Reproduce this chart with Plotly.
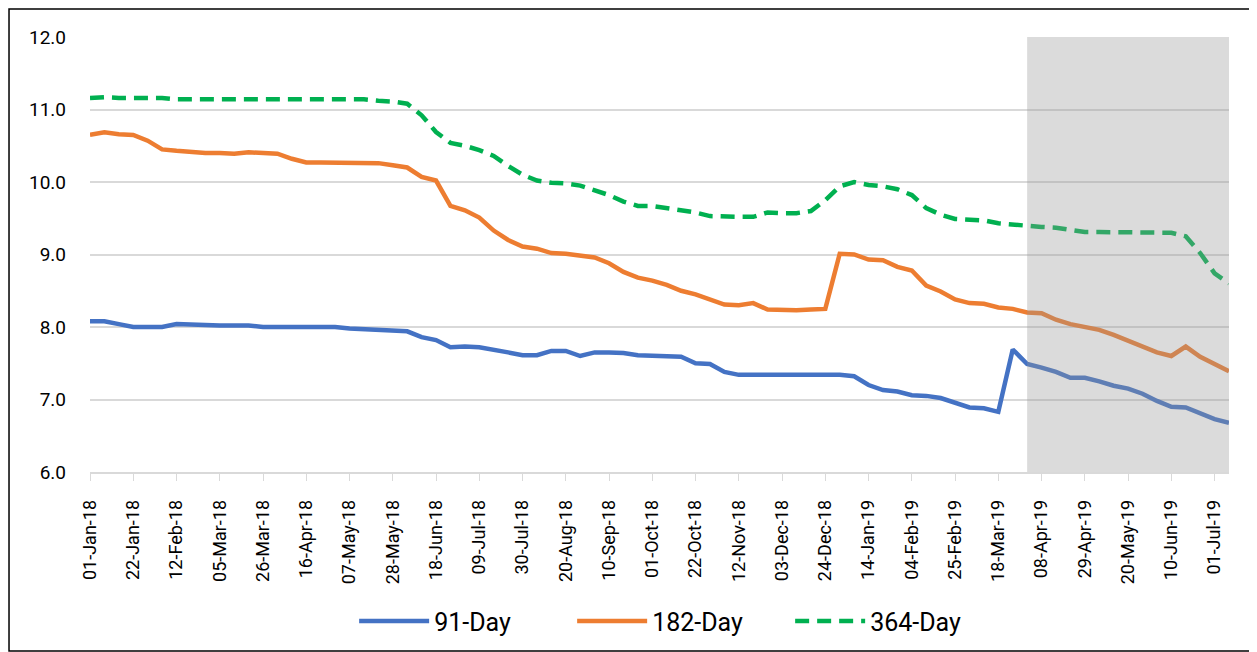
import pandas as pd
import plotly.graph_objects as go

# weekly observations, first week starts 01-Jan-18
start_date = '2018-01-01'
n_weeks = 80

yield_91 = [
    8.08, 8.08, 8.04, 8.00, 8.00, 8.00, 8.04, 8.03, 8.03, 8.02,
    8.02, 8.02, 8.00, 8.00, 8.00, 8.00, 8.00, 8.00, 7.98, 7.97,
    7.95, 7.94, 7.94, 7.86, 7.82, 7.72, 7.73, 7.72, 7.69, 7.65,
    7.61, 7.61, 7.67, 7.67, 7.60, 7.65, 7.65, 7.64, 7.61, 7.60,
    7.60, 7.59, 7.50, 7.49, 7.38, 7.34, 7.34, 7.34, 7.34, 7.34,
    7.35, 7.34, 7.34, 7.32, 7.20, 7.13, 7.11, 7.06, 7.05, 7.02,
    6.96, 6.89, 6.88, 6.83, 7.69, 7.49, 7.44, 7.38, 7.30, 7.30,
    7.25, 7.19, 7.15, 7.08, 6.98, 6.90, 6.89, 6.81, 6.73, 6.68,
]
yield_182 = [
    10.65, 10.685, 10.66, 10.65, 10.57, 10.45, 10.43, 10.41, 10.40, 10.40,
    10.39, 10.41, 10.40, 10.39, 10.32, 10.27, 10.27, 10.27, 10.27, 10.27,
    10.26, 10.23, 10.20, 10.07, 10.02, 9.67, 9.61, 9.51, 9.33, 9.20,
    9.11, 9.08, 9.02, 9.01, 8.99, 8.96, 8.88, 8.76, 8.68, 8.64,
    8.58, 8.50, 8.45, 8.38, 8.31, 8.30, 8.33, 8.24, 8.23, 8.23,
    8.24, 8.25, 9.01, 9.00, 8.93, 8.92, 8.83, 8.78, 8.57, 8.49,
    8.38, 8.33, 8.32, 8.27, 8.25, 8.20, 8.19, 8.10, 8.04, 8.00,
    7.96, 7.89, 7.81, 7.73, 7.65, 7.60, 7.73, 7.59, 7.49, 7.39,
]
yield_364 = [
    11.16, 11.17, 11.16, 11.16, 11.16, 11.16, 11.14, 11.14, 11.14, 11.13,
    11.13, 11.14, 11.14, 11.14, 11.14, 11.14, 11.14, 11.145, 11.145, 11.14,
    11.12, 11.11, 11.08, 10.92, 10.69, 10.54, 10.50, 10.44, 10.36, 10.22,
    10.10, 10.02, 9.99, 9.98, 9.95, 9.89, 9.82, 9.73, 9.67, 9.67,
    9.64, 9.61, 9.58, 9.53, 9.52, 9.52, 9.52, 9.58, 9.57, 9.57,
    9.60, 9.75, 9.94, 10.00, 9.96, 9.94, 9.90, 9.82, 9.64, 9.55,
    9.49, 9.48, 9.47, 9.43, 9.41, 9.40, 9.38, 9.37, 9.34, 9.31,
    9.31, 9.31, 9.31, 9.31, 9.30, 9.30, 9.25, 9.02, 8.74, 8.60,
]

shade_start = '2019-04-01'
shade_end = '2019-07-08'

dates = pd.date_range(start_date, periods=n_weeks, freq='7D')

series = [
    ('91-Day', yield_91, '#4472C4', 'solid'),
    ('182-Day', yield_182, '#ED7D31', 'solid'),
    ('364-Day', yield_364, '#00B050', '14px,8px'),
]

fig = go.Figure()
for name, values, colour, dash in series:
    fig.add_trace(go.Scatter(
        x = dates,
        y = values,
        name = name,
        mode = 'lines',
        line = dict(color = colour, width = 4.5, dash = dash),
    ))

# shaded window at the end, drawn over the lines
fig.add_shape(
    type = 'rect',
    xref = 'x', yref = 'paper',
    x0 = shade_start, x1 = shade_end, y0 = 0, y1 = 1,
    fillcolor = 'rgba(150,150,150,0.34)',
    line = dict(width = 0),
    layer = 'above',
)
# outer chart border
fig.add_shape(
    type = 'rect',
    xref = 'paper', yref = 'paper',
    x0 = -0.0711, x1 = 1.0202, y0 = -0.4115, y1 = 1.0644,
    line = dict(color = 'black', width = 1.5),
    layer = 'above',
)

family = 'Roboto, Arial, sans-serif'

# page body adds an 8px offset, so the figure is 8px smaller than the window
fig.update_layout(
    width = 1249,
    height = 644,
    margin = dict(l = 82, r = 28, t = 29, b = 180, autoexpand = False),
    paper_bgcolor = 'white',
    plot_bgcolor = 'white',
    font = dict(family = family, size = 19, color = 'black'),
    showlegend = True,
    legend = dict(
        orientation = 'h',
        x = 0.519, xanchor = 'center',
        y = -0.343, yanchor = 'middle',
        font = dict(family = family, size = 25, color = 'black'),
        itemwidth = 70,
        entrywidth = 133,
    ),
    xaxis = dict(
        type = 'date',
        range = [start_date, shade_end],
        tick0 = start_date,
        dtick = 21 * 86400000,
        tickformat = '%d-%b-%y',
        tickangle = -90,
        tickfont = dict(family = family, size = 18, color = 'black'),
        ticks = 'outside',
        ticklen = 7,
        tickcolor = '#d9d9d9',
        showgrid = False,
        showline = True,
        linecolor = '#d9d9d9',
        linewidth = 1.5,
        ticklabelstandoff = 12,
        zeroline = False,
        automargin = False,
    ),
    yaxis = dict(
        range = [6, 12],
        dtick = 1,
        tickformat = '.1f',
        showgrid = True,
        gridcolor = '#d9d9d9',
        gridwidth = 1.5,
        zeroline = False,
        ticks = '',
        ticklabelstandoff = 23,
        automargin = False,
    ),
)

fig.write_html('out.html')
